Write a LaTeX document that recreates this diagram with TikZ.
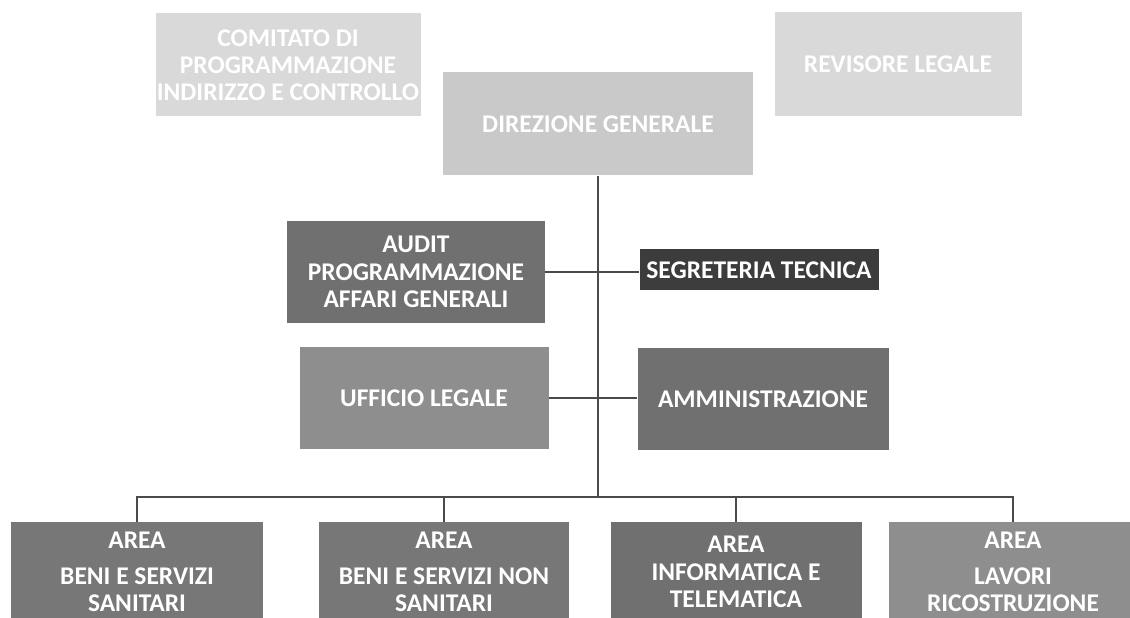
\documentclass[tikz,border=0pt]{standalone}
\usepackage{fontspec}
\setmainfont{Carlito}
\usepackage{tikz}
\definecolor{palegrey}{HTML}{D9D9D9}
\definecolor{topgrey}{HTML}{C9C9C9}
\definecolor{midgrey}{HTML}{8E8E8E}
\definecolor{darkgrey}{HTML}{707070}
\definecolor{deepgrey}{HTML}{3C3C3C}
\definecolor{linegrey}{HTML}{4A4A4A}

\begin{document}
\begin{tikzpicture}[x=0.02cm,y=-0.02cm,
    unit/.style={fill=#1,text=white,align=center,inner sep=0pt,
      font=\bfseries\fontsize{14.5}{15.5}\selectfont},
    link/.style={draw=linegrey,line width=0.6pt}]
      \useasboundingbox (0,0) rectangle (1130,618);
      \clip (0,0) rectangle (1130,618);

      \node [unit=palegrey,minimum width=265*0.02cm,minimum height=103*0.02cm] (1) at (288,65) {COMITATO DI\\PROGRAMMAZIONE\\INDIRIZZO E CONTROLLO};
      \node [unit=palegrey,minimum width=247*0.02cm,minimum height=104*0.02cm] (2) at (898,64) {REVISORE LEGALE};
      \node [unit=topgrey,minimum width=310*0.02cm,minimum height=103*0.02cm] (3) at (598,124) {DIREZIONE GENERALE};

      \node [unit=darkgrey,minimum width=258*0.02cm,minimum height=102*0.02cm] (4) at (416,272) {AUDIT\\PROGRAMMAZIONE\\AFFARI GENERALI};
      \node [unit=deepgrey,minimum width=239*0.02cm,minimum height=41*0.02cm] (5) at (759,270) {SEGRETERIA TECNICA};
      \node [unit=midgrey,minimum width=249*0.02cm,minimum height=102*0.02cm] (6) at (424,398) {UFFICIO LEGALE};
      \node [unit=darkgrey,minimum width=251*0.02cm,minimum height=102*0.02cm] (7) at (763,399) {AMMINISTRAZIONE};

      \node [unit=darkgrey!95!white,minimum width=252*0.02cm,minimum height=100*0.02cm] (8) at (137,572) {AREA\\[5pt]BENI E SERVIZI\\SANITARI};
      \node [unit=darkgrey!95!white,minimum width=250*0.02cm,minimum height=100*0.02cm] (9) at (444,572) {AREA\\[5pt]BENI E SERVIZI NON\\SANITARI};
      \node [unit=darkgrey,minimum width=251*0.02cm,minimum height=100*0.02cm] (10) at (736,572) {AREA\\INFORMATICA E\\TELEMATICA};
      \node [unit=midgrey,minimum width=248*0.02cm,minimum height=100*0.02cm] (11) at (1013,572) {AREA\\[5pt]LAVORI\\RICOSTRUZIONE};

      \coordinate (bus) at (598,497);

      \draw[link] (3.south) -- (bus);
      \draw[link] (4.east) -- (4.east -| 5.west);
      \draw[link] (6.east) -- (6.east -| 7.west);
      \foreach \n in {8,9,10,11}
        \draw[link] (bus) -| (\n.north);
    \end{tikzpicture}
\end{document}
